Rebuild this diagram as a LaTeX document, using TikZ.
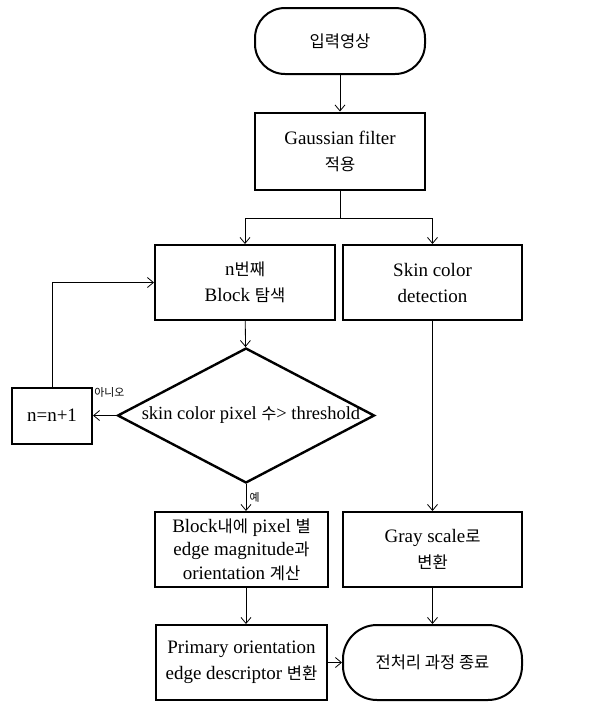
\documentclass[tikz,border=0pt]{standalone}
\usepackage{fontspec}
\setmainfont{Liberation Serif}
\newfontfamily\kr{Noto Sans CJK KR}[Scale=0.87]
\usepackage{tikz}
\usetikzlibrary{arrows.meta}
\usetikzlibrary{shapes.geometric}
\tikzset{b/.style={draw, line width=2pt, align=center, inner sep=0pt, font=\fontsize{19}{26}\selectfont}}
\tikzset{t/.style={b, rounded corners=30pt}}
\tikzset{s/.style={font=\fontsize{12.5}{12.5}\selectfont\kr}}

\begin{document}
\begin{tikzpicture}[x=1pt, y=-1pt, >={Straight Barb[length=6pt,width=10pt]}, line width=0.8pt]
        \useasboundingbox (0,0) rectangle (614,702);
          \node [t, minimum width=170pt, minimum height=66pt] (start) at (340, 41) {\kr 입력영상};
          \node [b, minimum width=170pt, minimum height=77pt] (gauss) at (340, 151) {Gaussian filter\\{\kr 적용}}
            edge [<-] (start);
          \coordinate (split) at (340, 218);
          \node [b, minimum width=180pt, minimum height=75pt] (block) at (245, 282.5) {n{\kr 번째}\\Block {\kr 탐색}};
          \node [b, minimum width=179pt, minimum height=75pt] (skin) at (432.5, 282.5) {Skin color\\detection};
          \draw (gauss) -- (split);
          \draw [->] (split) -| (block);
          \draw [->] (split) -| (skin);
          \node [b, diamond, line width=2.4pt, minimum width=257pt, minimum height=135pt] (dec) at (246, 415.5) {\makebox[0pt]{\hspace{10pt}\fontsize{18.5}{26}\selectfont skin color pixel {\kr 수}> threshold}}
            edge [<-] (block);
          \node [b, minimum width=80pt, minimum height=56pt] (inc) at (52, 415.5) {n=n+1}
            edge [<-] (dec);
          \node [s, anchor=north west, inner sep=1pt] at (inc.north east) {아니오};
          \draw [->] (inc) |- (block);
          \node [b, minimum width=173pt, minimum height=75pt, font=\fontsize{19}{23.5}\selectfont] (calc) at (241.5, 549.5) {Block{\kr 내에} pixel {\kr 별}\\edge magnitude{\kr 과}\\orientation {\kr 계산}};
          \draw [->] (dec.south) -- node [right, s] {예} (dec.south |- calc.north);
          \node [b, minimum width=179pt, minimum height=75pt] (gray) at (432.5, 549.5) {Gray scale{\kr 로}\\{\kr 변환}}
            edge [<-] (skin);
          \node [b, minimum width=171pt, minimum height=75pt] (prim) at (241.5, 662.5) {Primary orientation\\edge descriptor {\kr 변환}};
          \draw [->] (calc.south -| dec.south) -- (prim.north -| dec.south);
          \node [t, minimum width=179pt, minimum height=75pt, rounded corners=34pt] (end) at (432.5, 662.5) {\kr 전처리 과정 종료}
            edge [<-] (gray)
            edge [<-] (prim);
      \end{tikzpicture}
\end{document}
